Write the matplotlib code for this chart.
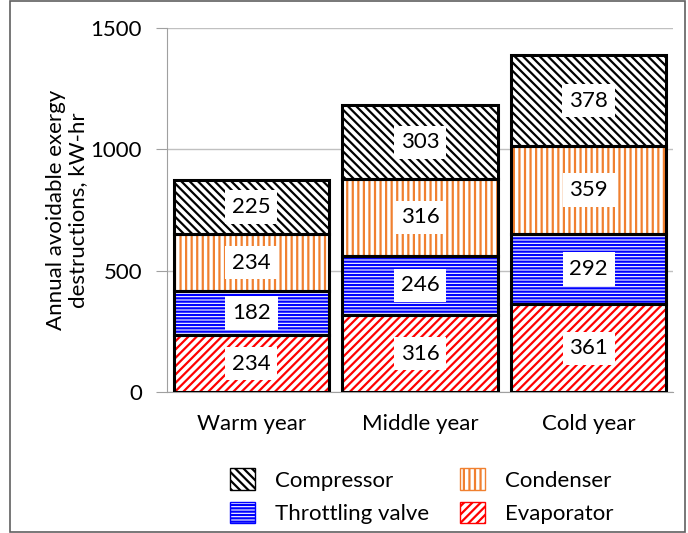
import matplotlib.pyplot as plt
import numpy as np
from matplotlib.patches import Patch, Rectangle

plt.rcParams["font.family"] = ["Lato", "DejaVu Sans"]
plt.rcParams["hatch.linewidth"] = 1.6

years = ["Warm year", "Middle year", "Cold year"]
evaporator = [234, 316, 361]
throttling = [182, 246, 292]
condenser = [234, 316, 359]
compressor = [225, 303, 378]

series = [
    ("Evaporator", evaporator, "#ff0000", "////"),
    ("Throttling valve", throttling, "#0000ff", "-----"),
    ("Condenser", condenser, "#f08030", "|||"),
    ("Compressor", compressor, "#000000", "\\\\\\\\"),
]

fig = plt.figure(figsize=(6.88, 5.33), dpi=100)
ax = fig.add_axes([0.243, 0.2645, 0.735, 0.683])

x = np.arange(len(years))
width = 0.92
bottom = np.zeros(len(years))
for name, vals, col, hatch in series:
    vals = np.array(vals)
    ax.bar(x, vals, width, bottom=bottom, color="white", edgecolor=col,
           hatch=hatch, linewidth=0, zorder=3)
    ax.bar(x, vals, width, bottom=bottom, fill=False, edgecolor="black",
           linewidth=2.2, zorder=4)
    for xi, b, v in zip(x, bottom, vals):
        ax.text(xi, b + v / 2, str(v), ha="center", va="center", fontsize=16,
                zorder=5,
                bbox=dict(boxstyle="square,pad=0.3", fc="white", ec="none"))
    bottom += vals

ax.set_xlim(-0.5, 2.5)
ax.set_ylim(0, 1500)
ax.set_yticks([0, 500, 1000, 1500])
ax.tick_params(axis="y", labelsize=16, length=8, color="#a0a0a0", pad=10)
ax.tick_params(axis="x", labelsize=16, length=0, pad=16)
ax.set_xticks(x)
ax.set_xticklabels(years)
ax.grid(axis="y", color="#c0c0c0", linewidth=1, zorder=0)
for s in ["top", "right"]:
    ax.spines[s].set_visible(False)
ax.spines["left"].set_color("#a0a0a0")
ax.spines["bottom"].set_color("#a0a0a0")
ax.set_ylabel("Annual avoidable exergy\ndestructions, kW-hr", fontsize=16,
              linespacing=1.1, labelpad=2)

# column-wise fill: Compressor/Throttling in col 1, Condenser/Evaporator in col 2
handles = [
    Patch(facecolor="white", edgecolor="black", hatch="\\\\\\\\", label="Compressor"),
    Patch(facecolor="white", edgecolor="#0000ff", hatch="-----", label="Throttling valve"),
    Patch(facecolor="white", edgecolor="#f08030", hatch="|||", label="Condenser"),
    Patch(facecolor="white", edgecolor="#ff0000", hatch="////", label="Evaporator"),
]
fig.legend(handles=handles, ncol=2, loc="center", bbox_to_anchor=(0.613, 0.069),
           frameon=False, fontsize=16, handlelength=1.1, handleheight=1.1,
           columnspacing=1.4, handletextpad=0.9, labelspacing=0.5)

fig.patches.append(Rectangle((0.015, 0.002), 0.98, 0.996, transform=fig.transFigure,
                             fill=False, edgecolor="#606060", linewidth=1.2))

fig.savefig("out.png", dpi=100)
